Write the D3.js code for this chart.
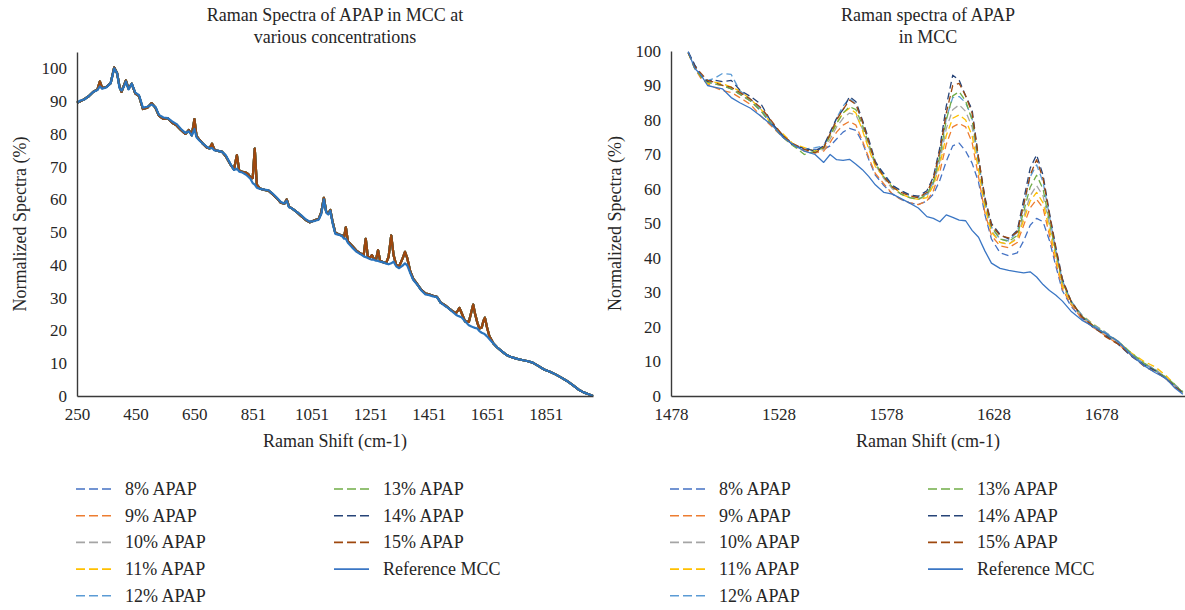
<!DOCTYPE html>
<html>
<head>
<meta charset="utf-8">
<script src="https://cdn.jsdelivr.net/npm/d3@7"></script>
<style>
  body { margin: 0; background: #fff; }
  svg { display: block; font-family: "Liberation Serif", "Times New Roman", serif; }
</style>
</head>
<body>
<svg id="chart" width="1185" height="610"></svg>
<script>
// ---- data ----
const seriesNames = ["8% APAP", "9% APAP", "10% APAP", "11% APAP", "12% APAP",
  "13% APAP", "14% APAP", "15% APAP", "Reference MCC"];
const seriesColors = ["#4472C4", "#ED7D31", "#A5A5A5", "#FFC000", "#5B9BD5",
  "#70AD47", "#264478", "#9E480E", "#3A76C4"];

const yTicks = [0, 10, 20, 30, 40, 50, 60, 70, 80, 90, 100];
const leftXTicks = [250, 450, 650, 851, 1051, 1251, 1451, 1651, 1851];
const rightXTicks = [1478, 1528, 1578, 1628, 1678];

// full spectrum (left panel)
const leftShift = [250, 262, 275, 290, 305, 320, 328, 336, 350, 365, 377, 387, 395, 402, 409, 417, 426, 437, 449, 462,
  475, 490, 505, 518, 530, 545, 560, 575, 590, 605, 620, 632, 642, 651, 658, 668, 680, 694, 703, 711,
  719, 730, 745, 758, 773, 786, 796, 804, 815, 826, 834, 842, 850, 857, 864, 875, 890, 904, 918, 932,
  946, 958, 966, 974, 985, 1000, 1015, 1030, 1045, 1060, 1075, 1084, 1093, 1101, 1108, 1115, 1122, 1132, 1145, 1155,
  1162, 1168, 1175, 1190, 1205, 1220, 1229, 1236, 1243, 1250, 1257, 1264, 1271, 1278, 1285, 1296, 1306, 1314, 1323, 1331,
  1340, 1350, 1362, 1370, 1378, 1388, 1398, 1410, 1425, 1440, 1453, 1466, 1479, 1492, 1505, 1518, 1531, 1544, 1550, 1556,
  1563, 1575, 1588, 1597, 1603, 1609, 1617, 1624, 1632, 1638, 1643, 1650, 1658, 1672, 1685, 1700, 1715, 1730, 1750, 1770,
  1790, 1806, 1825, 1845, 1865, 1884, 1904, 1923, 1942, 1962, 1980, 1995, 2012];
const leftAPAP = [89.5, 90, 90.6, 91.5, 92.8, 93.6, 96, 94, 94.3, 95.5, 100.3, 98.5, 94.5, 92.8, 94.5, 96.3, 93.8, 95.3, 92.4, 91.5,
  87.6, 88, 89.4, 88, 85.5, 84.6, 84.8, 83.4, 82.6, 81.2, 80, 81.2, 79.6, 84.5, 79.4, 78.2, 77, 75.8, 75.6, 77,
  75.2, 74.8, 74.6, 73.2, 70.8, 69.2, 73.5, 68.8, 68.4, 68.2, 67.8, 66.8, 66.5, 75.5, 64.5, 63.3, 62.9, 62.7, 61.6, 60.4,
  59, 58.7, 60, 57.8, 57.2, 56.2, 55, 53.8, 53, 53.6, 54, 56, 60.5, 56.2, 55.6, 56.8, 53.5, 49.8, 49.3, 49,
  48.5, 51.5, 47.2, 45.8, 44.3, 43.4, 43, 48, 42.6, 42.2, 43, 41.8, 41.6, 44.5, 41.3, 40.8, 40.6, 42.5, 49, 43,
  40, 39.6, 42, 44, 42, 38, 35.8, 34.4, 32.5, 31.3, 31, 30.6, 30.3, 28.5, 27.8, 26.9, 26, 25.3, 26, 26.9,
  25.4, 22.8, 22.6, 25.8, 27.9, 25.2, 22.4, 20.6, 20.9, 23, 23.9, 21, 18.3, 16, 14.8, 13.7, 12.6, 12, 11.4, 11,
  10.6, 10.2, 9.2, 8.1, 7.4, 6.6, 5.6, 4.6, 3.4, 2, 1.1, 0.6, 0];
const leftMCC = [89.5, 90.2, 90.5, 91.5, 92.8, 93.4, 94.5, 93.8, 94.2, 95.5, 100, 98.5, 94, 93.2, 94.2, 96, 93.6, 95.3, 92.6, 91.8,
  88, 88.3, 89, 88.2, 85.8, 85, 84.8, 83.8, 83, 81.5, 80.3, 80.8, 79.5, 81.5, 79, 78, 77, 76, 75.6, 75.7,
  75, 74.9, 74.5, 73.5, 71, 69, 69.4, 68.5, 68.2, 67.6, 67, 66.3, 65, 64.5, 63.6, 63.2, 63, 62.8, 61.8, 60.6,
  59.2, 58.8, 59.6, 57.6, 57.2, 56.2, 55.2, 54, 53.2, 53.4, 53.8, 55.5, 60, 56, 55.4, 56.5, 53, 49.5, 49.2, 48.8,
  48, 48, 46.8, 45.3, 44, 43.2, 42.6, 42.4, 42.1, 41.8, 41.6, 41.6, 41.3, 41.2, 41, 40.8, 40.4, 40.2, 40.5, 41,
  39.6, 39, 39.8, 40.5, 39.8, 37.5, 35.5, 34.2, 32.3, 31, 30.8, 30.4, 30.2, 28.4, 27.6, 26.8, 25.8, 24.8, 24.5, 24.3,
  24, 22.8, 21.6, 21.2, 21, 20.8, 20.6, 19.8, 19.3, 19.1, 18.8, 18.2, 17.4, 16, 14.8, 13.7, 12.6, 12, 11.4, 11,
  10.6, 10.2, 9.2, 8.1, 7.4, 6.6, 5.6, 4.6, 3.4, 2, 1.1, 0.6, 0];

// 1478-1717 cm-1 window (right panel)
const rightShift = [1486, 1489, 1492, 1495, 1498, 1502, 1506, 1510, 1515, 1520, 1525, 1530, 1535, 1540, 1545,
  1549, 1552, 1555, 1558, 1561, 1564, 1567, 1570, 1573, 1577, 1581, 1585, 1589, 1593, 1597,
  1600, 1603, 1606, 1609, 1612, 1615, 1618, 1621, 1624, 1627, 1631, 1635, 1639, 1642, 1645,
  1648, 1651, 1654, 1657, 1660, 1664, 1669, 1674, 1680, 1686, 1692, 1698, 1703, 1708, 1712, 1716];
const apap8 = [99.5, 95.5, 92.5, 91, 90.5, 90, 89, 87.5, 85.5, 82.5, 78.5, 75.5, 73, 71.5, 71.5,
  71.5, 72.5, 74.5, 76.5, 77.6, 77, 73.5, 68.5, 64, 61, 58.5, 57, 56, 55.5, 56.5,
  58.5, 62.5, 68, 72.5, 73.3, 71, 67.5, 62, 52.5, 45.5, 41.5, 40.7, 41.5, 45, 49.5,
  51.5, 50.5, 45, 37.5, 30.5, 26, 22.5, 20.2, 18, 15.2, 12, 9.5, 7.6, 5.4, 3.2, 1];
const apap9 = [99.5, 95, 92, 90.5, 89.5, 88.5, 88, 86.5, 84.5, 81, 78, 75, 72.5, 71, 70.5,
  71, 73.5, 76.5, 78.5, 79.6, 78.5, 74, 69, 64.5, 61.5, 58.5, 57, 56, 55.5, 56.5,
  59.5, 65, 73, 78, 79, 78, 73.5, 63.5, 53, 46.5, 43.5, 43, 44.5, 49.5, 54.5,
  57, 54.5, 46.5, 38.5, 31, 26.5, 22.5, 20, 17.5, 15, 11.8, 9.4, 7.5, 5, 3, 1];
const apap10 = [99.6, 95.5, 93, 91, 90.5, 90, 89.5, 87.5, 85.5, 82.5, 78.5, 75, 72.5, 71, 70.5,
  71.5, 74.5, 78, 80.5, 82, 81.5, 77.5, 72, 67, 63, 60, 58.5, 57.5, 57, 58,
  61.5, 68, 77.5, 83, 84.4, 82.5, 78, 67, 55.5, 48, 44.5, 44, 46, 52, 58,
  61, 58, 49.5, 41, 32.5, 27, 23, 20.5, 18, 15.5, 12, 9.5, 7.8, 5.5, 3.2, 1];
const apap11 = [99.5, 95, 92.5, 90.5, 91, 90.5, 89.5, 88.5, 86, 83, 78.5, 76, 73, 72, 71,
  72, 75.5, 79, 82, 83.4, 82, 77, 71.5, 66.5, 63.5, 61, 58.5, 57.5, 57, 57.5,
  61, 67, 75.5, 80.5, 81.5, 80, 75.5, 65.5, 54.5, 47.5, 44.5, 44, 45.5, 51, 56.5,
  59, 56, 48, 40, 32, 27, 23.5, 21, 18.5, 15.8, 12.5, 10, 8.5, 6, 3.5, 1.2];
const apap12 = [99.6, 96, 93, 91.5, 92, 93.5, 93.2, 88.5, 86, 83, 79, 75.5, 72.5, 71.5, 72,
  72.5, 76, 80.5, 84, 86.3, 84.5, 79.5, 73.5, 67.5, 64.5, 61, 59.5, 58, 57.5, 58.5,
  62, 70, 80.5, 86.5, 86.8, 85, 80.5, 68, 56.5, 49, 45.5, 45, 47.5, 55, 63.5,
  67, 62, 52, 42, 33.5, 27.5, 23.5, 20.8, 18.5, 15.8, 12.2, 9.2, 7.6, 5, 3.4, 1.2];
const apap13 = [99.5, 95, 92.5, 91, 90.5, 90, 89, 87.5, 85.5, 82.5, 78.5, 75, 72.5, 70, 71,
  72, 75.5, 79, 82, 83.9, 83, 78.5, 73, 67.5, 63.5, 60.5, 58.5, 57.5, 57, 58.5,
  62, 69.5, 80, 87, 88.2, 85.5, 80, 68.5, 56.5, 49, 45.5, 44.8, 46.5, 53.5, 60.5,
  64, 60, 50.5, 41.5, 33, 27.5, 23.2, 20.6, 18, 15.8, 12.5, 9.5, 7.5, 5.5, 3.5, 1];
const apap14 = [99.8, 96, 93, 91.2, 91.6, 91.1, 91.5, 88.7, 86.8, 84.5, 79, 75.5, 72.5, 71.8, 71,
  72.5, 76.5, 80.5, 83, 86.8, 85.3, 80, 74.3, 68, 64.2, 61, 59.5, 58.3, 57.9, 59.5,
  63.5, 72, 84, 93, 91.5, 87, 83, 69, 57.5, 50, 46.8, 45.5, 48, 56.9, 66,
  69.9, 64, 53, 43, 34, 27.5, 23, 20, 17.6, 15, 11.5, 9, 7.4, 5, 3, 0.8];
const apap15 = [99.5, 95.5, 93.5, 91.5, 91, 90, 89.5, 88, 86, 83.5, 79.5, 75.5, 73, 71.5, 70.5,
  72, 76, 80, 83, 85.8, 84.5, 79.5, 73.5, 67.5, 63.5, 60.5, 59, 58, 57.5, 59,
  63, 71, 82, 90, 90.6, 87, 82, 69, 57, 49.5, 46.5, 45.8, 47.5, 55.5, 64,
  68.5, 63, 52.5, 42.5, 33.5, 27.5, 23, 20.5, 17.2, 15, 11.8, 8.6, 7, 5.2, 2.8, 0.8];
const mcc = [99.8, 95, 93, 90, 89.5, 89, 86.5, 85, 83.4, 81, 78.5, 75, 72.8, 71, 70,
  67.7, 70, 68.5, 68.3, 68.6, 67.2, 65.6, 63.6, 61.2, 59, 58.5, 57.2, 55.9, 54.5, 52,
  51.5, 50.5, 52.5, 51.8, 51, 50.8, 48, 46, 42, 38.5, 37, 36.4, 36, 35.7, 36,
  34.5, 32.3, 30.6, 29.2, 27.5, 24.6, 22, 20.2, 18.2, 15.8, 11.8, 8.8, 6.8, 5.2, 2.5, 0.5];

const leftSeries = [leftAPAP, leftAPAP, leftAPAP, leftAPAP, leftAPAP, leftAPAP, leftAPAP, leftAPAP, leftMCC];
const rightSeries = [apap8, apap9, apap10, apap11, apap12, apap13, apap14, apap15, mcc];

// ---- drawing ----
const svg = d3.select("#chart");
const textColor = "#262626";
const axisColor = "#3a3a3a";

function drawPanel(p) {
  const x = d3.scaleLinear().domain(p.xDomain).range([p.left, p.right]);
  const y = d3.scaleLinear().domain([0, p.yMax]).range([p.bottom, p.top]);
  const g = svg.append("g");

  // title
  g.append("text")
    .attr("x", (p.left + p.right) / 2)
    .attr("text-anchor", "middle")
    .attr("font-size", 18)
    .attr("fill", textColor)
    .selectAll("tspan")
    .data(p.title)
    .join("tspan")
    .attr("x", (p.left + p.right) / 2)
    .attr("y", (d, i) => 21 + i * 22)
    .text(d => d);

  // lines
  const line = d3.line()
    .x((d, i) => x(p.shift[i]))
    .y(d => y(d));
  g.selectAll("path.series")
    .data(p.series)
    .join("path")
    .attr("class", "series")
    .attr("fill", "none")
    .attr("stroke", (d, i) => i === 8 ? p.mccColor : seriesColors[i])
    .attr("stroke-width", p.lineWidth)
    .attr("stroke-linejoin", "round")
    .attr("stroke-dasharray", (d, i) => (i < 8 && p.dashed) ? "7,4" : null)
    .attr("d", d => line(d));

  // axes
  const yAxis = d3.axisLeft(y).tickValues(yTicks).tickSize(0).tickSizeOuter(0).tickPadding(10);
  const yG = g.append("g").attr("transform", `translate(${p.left},0)`).call(yAxis);
  const xAxis = d3.axisBottom(x).tickValues(p.xTicks).tickFormat(d3.format("d"))
    .tickSize(0).tickSizeOuter(0).tickPadding(12);
  const xG = g.append("g").attr("transform", `translate(0,${p.bottom})`).call(xAxis);
  [yG, xG].forEach(a => {
    a.select(".domain").attr("stroke", axisColor).attr("stroke-width", 1.4);
    a.selectAll(".tick text")
      .attr("font-family", "Liberation Serif, serif")
      .attr("font-size", 17)
      .attr("fill", textColor);
  });

  // axis titles
  g.append("text")
    .attr("x", (p.left + p.right) / 2)
    .attr("y", 447)
    .attr("text-anchor", "middle")
    .attr("font-size", 18)
    .attr("fill", textColor)
    .text("Raman Shift (cm-1)");
  g.append("text")
    .attr("transform", `translate(${p.yTitleX},${(p.top + p.bottom) / 2}) rotate(-90)`)
    .attr("text-anchor", "middle")
    .attr("font-size", 18)
    .attr("fill", textColor)
    .text("Normalized Spectra (%)");

  // legend
  const legend = g.selectAll("g.legend")
    .data(seriesNames)
    .join("g")
    .attr("class", "legend")
    .attr("transform", (d, i) => {
      const col = i < 5 ? 0 : 1;
      const row = i < 5 ? i : i - 5;
      return `translate(${p.left - 1 + col * 258},${489 + row * 26.7})`;
    });
  legend.append("line")
    .attr("x1", 0).attr("x2", 35)
    .attr("stroke", (d, i) => seriesColors[i])
    .attr("stroke-width", 1.6)
    .attr("stroke-dasharray", (d, i) => i < 8 ? "9,4" : null);
  legend.append("text")
    .attr("x", 49)
    .attr("y", 6)
    .attr("font-size", 18)
    .attr("fill", textColor)
    .text(d => d);
}

drawPanel({
  left: 77, right: 593, top: 52, bottom: 396,
  xDomain: [250, 2012], yMax: 105, xTicks: leftXTicks,
  shift: leftShift, series: leftSeries, lineWidth: 2.2, dashed: false, mccColor: "#2A74BD",
  title: ["Raman Spectra of APAP in MCC at", "various concentrations"],
  yTitleX: 26
});

drawPanel({
  left: 671, right: 1185, top: 51, bottom: 396,
  xDomain: [1478, 1717], yMax: 100, xTicks: rightXTicks,
  shift: rightShift, series: rightSeries, lineWidth: 1.3, dashed: true, mccColor: "#3A76C4",
  title: ["Raman spectra of APAP", "in MCC"],
  yTitleX: 621
});
</script>
</body>
</html>
